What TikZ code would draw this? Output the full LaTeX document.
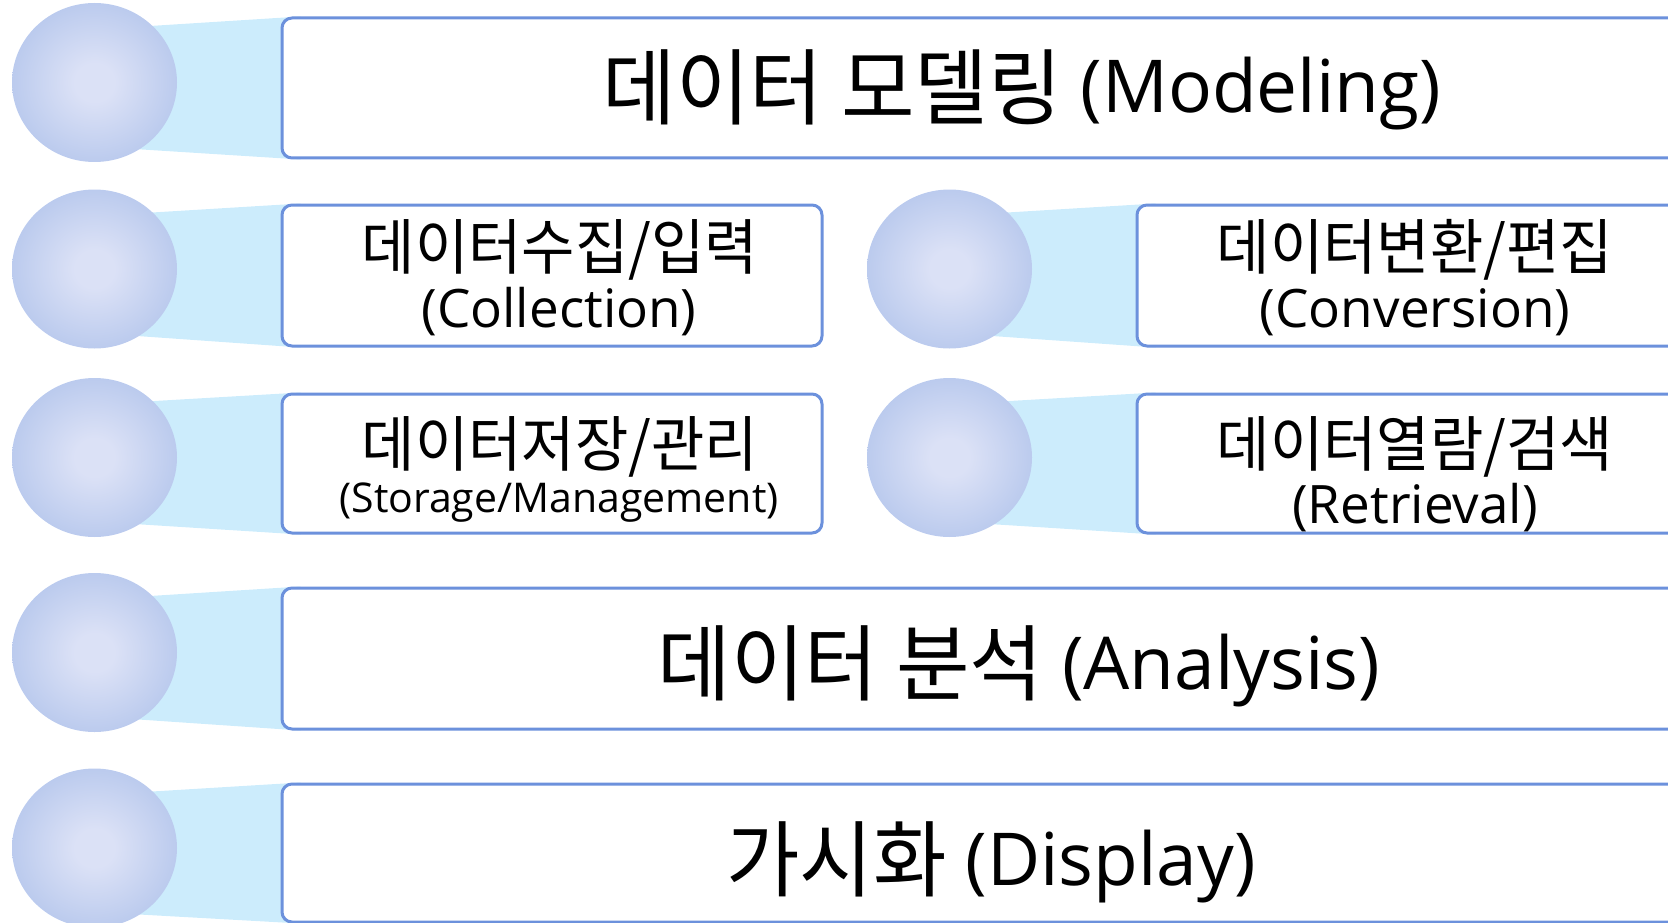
\documentclass[tikz,border=0pt]{standalone}
\usepackage{fontspec}
\setmainfont{Open Sans}
\newfontfamily\kr[Scale=1.14,FakeStretch=0.96]{Noto Sans CJK KR}
\newcommand\ko[1]{\raisebox{-0.07em}{\kr #1}}
\usetikzlibrary{shapes.geometric,calc,backgrounds}
\definecolor{ballin}{RGB}{219,225,246}
\definecolor{ballout}{RGB}{162,185,231}
\definecolor{wedgec}{RGB}{204,236,252}
\definecolor{boxline}{RGB}{108,145,220}
\pgfdeclareradialshading{ballsh}{\pgfpoint{0bp}{0bp}}{color(0bp)=(ballin); color(6bp)=(ballin); color(40bp)=(ballout); color(50bp)=(ballout)}
\begin{document}
\begin{tikzpicture}[x=1pt,y=-1pt,
  ball/.style={ellipse, minimum width=165pt, minimum height=159pt, inner sep=0pt, shade, shading=ballsh},
  box/.style={draw=boxline, line width=3pt, rounded corners=10pt, fill=white, inner sep=0pt},
  big/.style={font=\fontsize{73}{80}\selectfont, anchor=base, inner sep=0pt},
  mid/.style={font=\fontsize{53}{60}\selectfont, anchor=base, inner sep=0pt},
  small/.style={font=\fontsize{41}{48}\selectfont, anchor=base, inner sep=0pt}]
\useasboundingbox (0,0) rectangle (1668,923);
\clip (0,0) rectangle (1668,923);
% boxes
\node[box, minimum width=1518pt, minimum height=140pt] (b1) at (1041,88) {};
\node[box, minimum width=540pt, minimum height=141pt] (b2l) at (552,275.5) {};
\node[box, minimum width=663pt, minimum height=141pt] (b2r) at (1468.5,275.5) {};
\node[box, minimum width=540pt, minimum height=139pt] (b3l) at (552,463.5) {};
\node[box, minimum width=663pt, minimum height=139pt] (b3r) at (1468.5,463.5) {};
\node[box, minimum width=1518pt, minimum height=141pt] (b4) at (1041,658.5) {};
\node[box, minimum width=1518pt, minimum height=138pt] (b5) at (1041,853) {};
% circles
\node[ball] (c1) at (94.5,82.5) {};
\node[ball] (c2l) at (94.5,269) {};
\node[ball] (c2r) at (949.5,269) {};
\node[ball] (c3l) at (94.5,457.5) {};
\node[ball] (c3r) at (949.5,457.5) {};
\node[ball] (c4) at (94.5,652.5) {};
\node[ball] (c5) at (94.5,848) {};
% wedges
\begin{scope}[on background layer]
\foreach \c/\b in {c1/b1, c2l/b2l, c2r/b2r, c3l/b3l, c3r/b3r, c4/b4, c5/b5}{
  \fill[wedgec] ($(\c.center)+(0,-53)$) -- ($(\b.north west)+(20,0)$) -- ($(\b.south west)+(20,0)$) -- ($(\c.center)+(0,64)$) -- cycle;
}
\end{scope}
% texts
\node[big] (t1) at (1022,113) {\ko{데이터 모델링} (Modeling)};
\node[mid] (t2la) at (560,266) {\ko{데이터수집/입력}};
\node[mid] (t2lb) at (559,327) {(Collection)};
\node[mid] (t2ra) at (1415,266) {\ko{데이터변환/편집}};
\node[mid] (t2rb) at (1415,327) {(Conversion)};
\node[mid] (t3la) at (560,463) {\ko{데이터저장/관리}};
\node[small] (t3lb) at (559,512) {(Storage/Management)};
\node[mid] (t3ra) at (1415,463) {\ko{데이터열람/검색}};
\node[mid] (t3rb) at (1415,523) {(Retrieval)};
\node[big] (t4) at (1019,689) {\ko{데이터 분석} (Analysis)};
\node[big] (t5) at (991,885) {\ko{가시화} (Display)};
\end{tikzpicture}
\end{document}
